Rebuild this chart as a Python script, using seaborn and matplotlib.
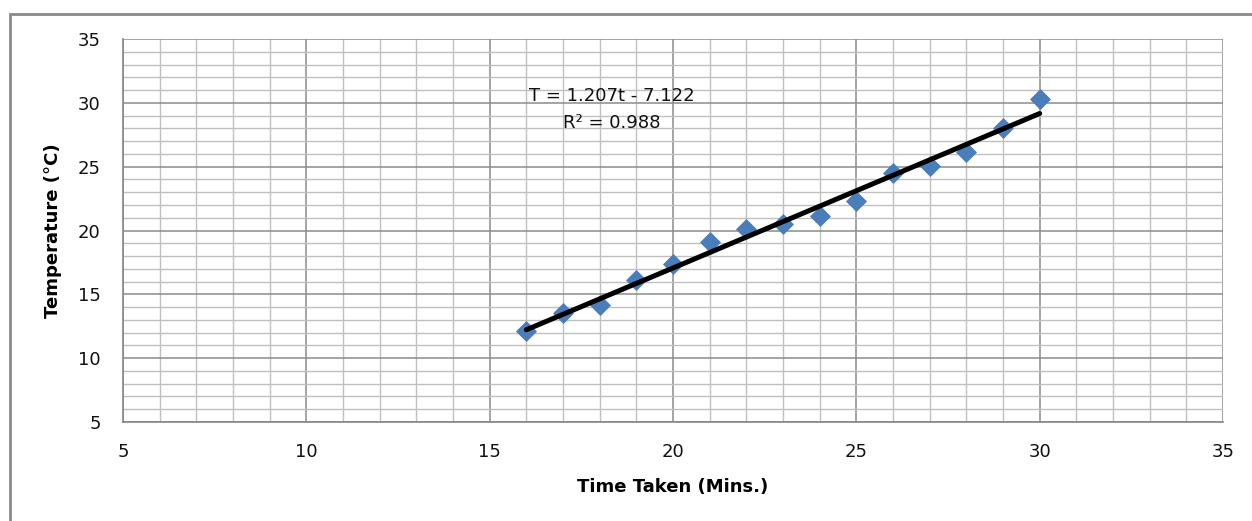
import matplotlib
matplotlib.use("Agg")
import matplotlib.pyplot as plt
import seaborn as sns
import pandas as pd
from matplotlib.ticker import MultipleLocator
from matplotlib.patches import Rectangle

# Data
time_taken = [16, 17, 18, 19, 20, 21, 22, 23, 24, 25, 26, 27, 28, 29, 30]
temperature = [12.1, 13.55, 14.15, 16.1, 17.35, 19.1, 20.1, 20.5, 21.15, 22.3, 24.5, 25.05, 26.15, 28.0, 30.3]
equation_text = "T = 1.207t - 7.122"
r2_text = "R² = 0.988"
x_ticks = [5, 10, 15, 20, 25, 30, 35]
y_ticks = [5, 10, 15, 20, 25, 30, 35]

df = pd.DataFrame({"Time": time_taken, "Temp": temperature})

sns.set_style("white")
plt.rcParams["font.family"] = ["DejaVu Sans"]

fig = plt.figure(figsize=(12.52, 5.21), dpi=100)
ax = fig.add_axes([123 / 1252, 1 - 422 / 521, 1100 / 1252, 383 / 521])

# Outer chart frame
fig.patches.append(Rectangle((10 / 1252, -0.2), 1.2, 1.2 - 13.5 / 521,
                             transform=fig.transFigure, fill=False,
                             edgecolor="#8a8a8a", linewidth=2.0, zorder=-1))

sns.regplot(data=df, x="Time", y="Temp", ax=ax, ci=None, truncate=True,
            marker="D",
            scatter_kws=dict(s=115, color="#4a7ebb", edgecolor="#4a7ebb", linewidths=0, alpha=1, zorder=3),
            line_kws=dict(color="black", linewidth=3.6, zorder=4))

ax.set_xlim(5, 35)
ax.set_ylim(5, 35)
ax.set_xticks(x_ticks)
ax.set_yticks(y_ticks)
ax.xaxis.set_minor_locator(MultipleLocator(1))
ax.yaxis.set_minor_locator(MultipleLocator(1))

ax.grid(which="minor", color="#c0c0c0", linewidth=1.0, zorder=0)
ax.grid(which="major", color="#8c8c8c", linewidth=1.1, zorder=0)
ax.set_axisbelow(True)

for side in ["top", "right"]:
    ax.spines[side].set_visible(False)
for side in ["left", "bottom"]:
    ax.spines[side].set_color("#868686")
    ax.spines[side].set_linewidth(1.2)

ax.tick_params(which="major", direction="out", length=6, width=1.0, color="#868686",
               labelsize=13, labelcolor="#111111")
ax.tick_params(axis="x", which="major", pad=9)
ax.tick_params(axis="y", which="major", pad=10)
ax.tick_params(which="minor", length=0)

ax.set_xlabel("Time Taken (Mins.)", fontsize=13, fontweight="bold", labelpad=12, color="black")
ax.set_ylabel("Temperature (°C)", fontsize=13, fontweight="bold", labelpad=11, color="black")

ax.text(18.33, 30.55, equation_text, ha="center", va="center", fontsize=13, color="#111111")
ax.text(18.33, 28.45, r2_text, ha="center", va="center", fontsize=13, color="#111111")

fig.savefig("out.png", dpi=100)
